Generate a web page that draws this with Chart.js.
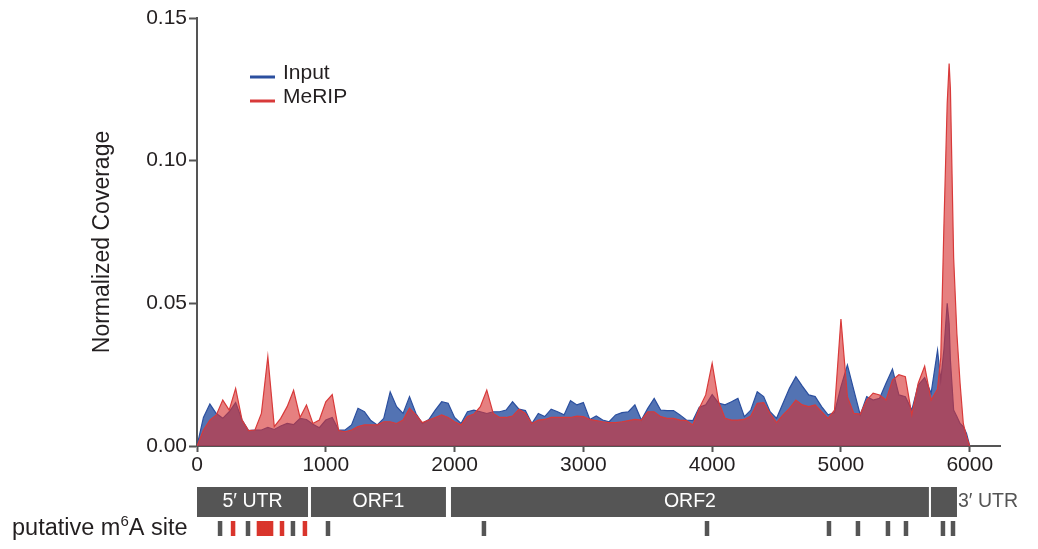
<!DOCTYPE html>
<html>
<head>
<meta charset="utf-8">
<title>Normalized Coverage</title>
<script src="https://cdn.jsdelivr.net/npm/chart.js@4.4.1/dist/chart.umd.min.js"></script>
<style>
  html, body { margin: 0; padding: 0; background: #ffffff; }
  #wrap { width: 1038px; height: 549px; position: relative; }
</style>
</head>
<body>
<div id="wrap"><canvas id="cov" width="1038" height="549"></canvas></div>
<script>
// Genome positions (nt) at which coverage is sampled
const positions = [
  0, 50, 100, 150, 200, 250, 300, 350, 400, 450,
  500, 550, 600, 650, 700, 750, 800, 850, 900, 950,
  1000, 1050, 1100, 1150, 1200, 1250, 1300, 1350, 1400, 1450,
  1500, 1550, 1600, 1650, 1700, 1750, 1800, 1850, 1900, 1950,
  2000, 2050, 2100, 2150, 2200, 2250, 2300, 2350, 2400, 2450,
  2500, 2550, 2600, 2650, 2700, 2750, 2800, 2850, 2900, 2950,
  3000, 3050, 3100, 3150, 3200, 3250, 3300, 3350, 3400, 3450,
  3500, 3550, 3600, 3650, 3700, 3750, 3800, 3850, 3900, 3950,
  4000, 4050, 4100, 4150, 4200, 4250, 4300, 4350, 4400, 4450,
  4500, 4550, 4600, 4650, 4700, 4750, 4800, 4850, 4900, 4950,
  5000, 5050, 5100, 5150, 5200, 5250, 5300, 5350, 5400, 5450,
  5500, 5550, 5600, 5650, 5700, 5750, 5775, 5800, 5825, 5840,
  5850, 5875, 5900, 5925, 5950, 5975, 6000
];

// Input library coverage
const inputCoverage = [
  0.0000, 0.0100, 0.0147, 0.0114, 0.0097, 0.0120, 0.0152, 0.0091, 0.0054, 0.0056,
  0.0056, 0.0065, 0.0058, 0.0070, 0.0079, 0.0075, 0.0097, 0.0093, 0.0076, 0.0064,
  0.0091, 0.0100, 0.0056, 0.0056, 0.0074, 0.0132, 0.0120, 0.0089, 0.0074, 0.0097,
  0.0190, 0.0138, 0.0114, 0.0173, 0.0114, 0.0079, 0.0093, 0.0126, 0.0155, 0.0150,
  0.0100, 0.0079, 0.0120, 0.0126, 0.0120, 0.0114, 0.0120, 0.0120, 0.0126, 0.0155,
  0.0129, 0.0124, 0.0079, 0.0114, 0.0103, 0.0129, 0.0120, 0.0109, 0.0159, 0.0144,
  0.0152, 0.0093, 0.0105, 0.0091, 0.0085, 0.0109, 0.0117, 0.0120, 0.0144, 0.0091,
  0.0132, 0.0167, 0.0126, 0.0124, 0.0124, 0.0109, 0.0091, 0.0089, 0.0136, 0.0144,
  0.0180, 0.0150, 0.0144, 0.0155, 0.0167, 0.0103, 0.0126, 0.0190, 0.0173, 0.0120,
  0.0097, 0.0150, 0.0202, 0.0243, 0.0210, 0.0179, 0.0173, 0.0138, 0.0109, 0.0117,
  0.0208, 0.0284, 0.0196, 0.0109, 0.0173, 0.0161, 0.0167, 0.0220, 0.0270, 0.0179,
  0.0173, 0.0126, 0.0214, 0.0240, 0.0185, 0.0336, 0.0230, 0.0340, 0.0500, 0.0430,
  0.0300, 0.0126, 0.0103, 0.0079, 0.0068, 0.0044, 0.0000
];

// MeRIP library coverage
const meripCoverage = [
  0.0000, 0.0056, 0.0091, 0.0109, 0.0161, 0.0126, 0.0202, 0.0091, 0.0054, 0.0056,
  0.0114, 0.0313, 0.0068, 0.0097, 0.0138, 0.0195, 0.0100, 0.0144, 0.0079, 0.0091,
  0.0155, 0.0180, 0.0054, 0.0050, 0.0056, 0.0068, 0.0074, 0.0074, 0.0074, 0.0085,
  0.0085, 0.0079, 0.0091, 0.0132, 0.0109, 0.0082, 0.0091, 0.0100, 0.0109, 0.0100,
  0.0085, 0.0074, 0.0103, 0.0112, 0.0138, 0.0196, 0.0114, 0.0100, 0.0100, 0.0105,
  0.0129, 0.0114, 0.0079, 0.0091, 0.0093, 0.0100, 0.0100, 0.0100, 0.0100, 0.0105,
  0.0103, 0.0093, 0.0089, 0.0085, 0.0082, 0.0082, 0.0085, 0.0089, 0.0093, 0.0091,
  0.0120, 0.0120, 0.0103, 0.0097, 0.0097, 0.0091, 0.0089, 0.0074, 0.0132, 0.0179,
  0.0290, 0.0155, 0.0097, 0.0091, 0.0091, 0.0093, 0.0105, 0.0150, 0.0152, 0.0114,
  0.0082, 0.0109, 0.0132, 0.0161, 0.0144, 0.0138, 0.0144, 0.0120, 0.0097, 0.0126,
  0.0445, 0.0173, 0.0114, 0.0112, 0.0161, 0.0185, 0.0179, 0.0161, 0.0231, 0.0250,
  0.0243, 0.0109, 0.0220, 0.0280, 0.0161, 0.0200, 0.0310, 0.0780, 0.1200, 0.1340,
  0.1250, 0.0660, 0.0395, 0.0220, 0.0079, 0.0033, 0.0000
];

// Axis ticks
const xTicks = [0, 1000, 2000, 3000, 4000, 5000, 6000];
const yTicks = [0.00, 0.05, 0.10, 0.15];

// Genome organisation
const regionNames  = ['5\u2032 UTR', 'ORF1', 'ORF2', '3\u2032 UTR'];
const regionStarts = [0, 885, 1972, 5699];
const regionEnds   = [862, 1933, 5683, 5901];

// Putative m6A sites; flagged ones are shown in red
const m6aSites   = [179, 280, 396, 481, 512, 543, 575, 660, 745, 838, 1017, 2228, 3960, 4907, 5132, 5365, 5505, 5792, 5870];
const m6aFlagged = [false, true, false, true, true, true, true, true, false, true, false, false, false, false, false, false, false, false, false];

const FONT = '"Liberation Sans", Arial, Helvetica, sans-serif';
const TEXT = '#231f20';
const GREY = '#555555';

function toPoints(xs, ys) {
  return xs.map((x, i) => ({ x: x, y: ys[i] }));
}

// Legend, axis title and genome tracks drawn under the plot
const annotations = {
  id: 'annotations',
  afterDraw(chart) {
    const ctx = chart.ctx;
    const xs = chart.scales.x;
    const area = chart.chartArea;
    ctx.save();

    // y-axis title
    ctx.save();
    ctx.translate(103, 242);
    ctx.rotate(-Math.PI / 2);
    ctx.font = '23px ' + FONT;
    ctx.fillStyle = TEXT;
    ctx.textAlign = 'center';
    ctx.textBaseline = 'middle';
    ctx.fillText('Normalized Coverage', 0, 0);
    ctx.restore();

    // legend
    chart.data.datasets.forEach((ds, i) => {
      const y = 77 + i * 24;
      ctx.strokeStyle = ds.legendColor;
      ctx.lineWidth = 3;
      ctx.beginPath();
      ctx.moveTo(250, y);
      ctx.lineTo(275, y);
      ctx.stroke();
      ctx.font = '21px ' + FONT;
      ctx.fillStyle = TEXT;
      ctx.textAlign = 'left';
      ctx.textBaseline = 'middle';
      ctx.fillText(ds.label, 283, y - 4);
    });

    // genome regions
    const boxTop = 487, boxH = 30;
    regionNames.forEach((name, i) => {
      const x0 = xs.getPixelForValue(regionStarts[i]);
      const x1 = xs.getPixelForValue(regionEnds[i]);
      ctx.fillStyle = GREY;
      ctx.fillRect(x0, boxTop, x1 - x0, boxH);
      ctx.font = '19.5px ' + FONT;
      ctx.textBaseline = 'middle';
      if (x1 - x0 > 60) {
        ctx.fillStyle = '#ffffff';
        ctx.textAlign = 'center';
        ctx.fillText(name, (x0 + x1) / 2, boxTop + boxH / 2);
      } else {
        ctx.fillStyle = GREY;
        ctx.textAlign = 'left';
        ctx.fillText(name, x1 + 1, boxTop + boxH / 2);
      }
    });

    // m6A site track label
    const labelY = 529;
    ctx.fillStyle = TEXT;
    ctx.textAlign = 'left';
    ctx.textBaseline = 'middle';
    ctx.font = '23.5px ' + FONT;
    let tx = 12;
    ctx.fillText('putative m', tx, labelY);
    tx += ctx.measureText('putative m').width;
    ctx.font = '15px ' + FONT;
    ctx.fillText('6', tx, labelY - 7);
    tx += ctx.measureText('6').width;
    ctx.font = '23.5px ' + FONT;
    ctx.fillText('A site', tx, labelY);

    // m6A site ticks
    m6aSites.forEach((pos, i) => {
      const cx = xs.getPixelForValue(pos);
      ctx.fillStyle = m6aFlagged[i] ? '#d9352c' : GREY;
      ctx.fillRect(cx - 2.25, 521, 4.5, 15);
    });

    ctx.restore();
  }
};

new Chart(document.getElementById('cov'), {
  type: 'line',
  data: {
    datasets: [
      {
        label: 'Input',
        data: toPoints(positions, inputCoverage),
        borderColor: '#2b4f9f',
        backgroundColor: 'rgba(40, 80, 160, 0.8)',
        legendColor: '#2b4f9f',
        borderWidth: 1.2,
        pointRadius: 0,
        tension: 0,
        fill: 'origin',
        order: 1
      },
      {
        label: 'MeRIP',
        data: toPoints(positions, meripCoverage),
        borderColor: '#d83a3a',
        backgroundColor: 'rgba(215, 50, 50, 0.62)',
        legendColor: '#d83a3a',
        borderWidth: 1.2,
        pointRadius: 0,
        tension: 0,
        fill: 'origin',
        order: 0
      }
    ]
  },
  options: {
    responsive: false,
    devicePixelRatio: 1,
    animation: false,
    events: [],
    layout: { padding: { top: 18, right: 38, left: 0, bottom: 0 } },
    plugins: {
      legend: { display: false },
      tooltip: { enabled: false },
      title: { display: false }
    },
    scales: {
      x: {
        type: 'linear',
        min: 0,
        max: 6235,
        afterFit(scale) { scale.height = 103; },
        afterBuildTicks(scale) { scale.ticks = xTicks.map(v => ({ value: v })); },
        ticks: {
          includeBounds: false,
          autoSkip: false,
          maxRotation: 0,
          padding: 1,
          color: TEXT,
          font: { family: FONT, size: 21 },
          callback: v => String(v)
        },
        grid: {
          display: true,
          drawOnChartArea: false,
          drawTicks: true,
          tickLength: 6,
          tickWidth: 2,
          color: GREY
        },
        border: { display: true, color: GREY, width: 2 }
      },
      y: {
        type: 'linear',
        min: 0,
        max: 0.15,
        afterFit(scale) { scale.width = 197; },
        afterBuildTicks(scale) { scale.ticks = yTicks.map(v => ({ value: v })); },
        ticks: {
          includeBounds: false,
          padding: 2,
          color: TEXT,
          font: { family: FONT, size: 21 },
          callback: v => v.toFixed(2)
        },
        grid: {
          display: true,
          drawOnChartArea: false,
          drawTicks: true,
          tickLength: 8,
          tickWidth: 2,
          color: GREY
        },
        border: { display: true, color: GREY, width: 2 }
      }
    }
  },
  plugins: [annotations]
});
</script>
</body>
</html>
